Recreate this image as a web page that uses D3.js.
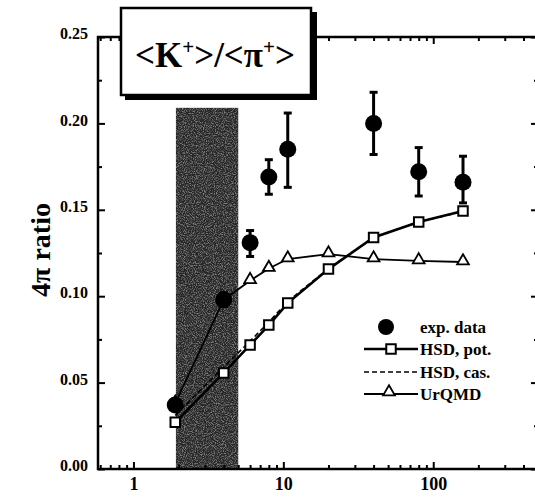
<!DOCTYPE html>
<html><head><meta charset="utf-8">
<script src="https://cdn.jsdelivr.net/npm/d3@7"></script>
<style>
body{margin:0;background:#fff}
svg text{font-family:"Liberation Serif","Times New Roman",serif;font-weight:bold;fill:#000}
</style>
</head><body>
<svg id="c" width="535" height="498"></svg>
<script>
// ---- data ----
const expE   = [1.9, 4, 6, 8, 10.7, 40, 80, 158];
const expVal = [0.037, 0.098, 0.131, 0.169, 0.185, 0.200, 0.172, 0.166];
const expLo  = [0.034, 0.094, 0.123, 0.159, 0.163, 0.182, 0.158, 0.154];
const expHi  = [0.040, 0.102, 0.138, 0.179, 0.206, 0.218, 0.186, 0.181];
const modelE = [1.9, 4, 6, 8, 10.7, 20, 40, 80, 158];
const hsdPot = [0.027, 0.0556, 0.0718, 0.0833, 0.096, 0.1157, 0.134, 0.143, 0.1493];
const hsdCas = [0.031, 0.059, 0.074, 0.085, 0.097, 0.116, 0.134, 0.143, 0.149];
const urqmd  = [0.038, 0.098, 0.109, 0.116, 0.1215, 0.1244, 0.1215, 0.1204, 0.1198];
const bandE  = [1.92, 5.0];
const bandTop = 0.209;
const xMajor = [1, 10, 100];
const xMinor = [0.6,0.7,0.8,0.9,2,3,4,5,6,7,8,9,20,30,40,50,60,70,80,90,200,300,400];
const yMajor = [0, 0.05, 0.10, 0.15, 0.20, 0.25];
const yMinor = [0.025, 0.075, 0.125, 0.175, 0.225];
const legendLabels = ["exp. data", "HSD, pot.", "HSD, cas.", "UrQMD"];
const yTitle = "4\u03c0 ratio";

// ---- layout ----
const L = 98, R = 538, T = 37, B = 469;
const svg = d3.select("#c");
const x = d3.scaleLog().domain([0.58, 500]).range([L, R]);
const y = d3.scaleLinear().domain([0, 0.25]).range([B, T]);

const defs = svg.append("defs");
const f = defs.append("filter").attr("id", "speck").attr("x", 0).attr("y", 0).attr("width", 1).attr("height", 1);
f.append("feTurbulence").attr("type", "fractalNoise").attr("baseFrequency", 0.9).attr("numOctaves", 2).attr("seed", 7).attr("result", "n");
f.append("feColorMatrix").attr("in", "n").attr("type", "matrix")
  .attr("values", "0 0 0 0 1  0 0 0 0 1  0 0 0 0 1  3.2 0 0 0 -1.35").attr("result", "w");
f.append("feComposite").attr("in", "w").attr("in2", "SourceGraphic").attr("operator", "in");

// shaded band
const bx = x(bandE[0]), bw = x(bandE[1]) - x(bandE[0]), by = y(bandTop), bh = y(0) - y(bandTop);
svg.append("rect").attr("x", bx).attr("width", bw).attr("y", by).attr("height", bh).attr("fill", "#262626");
svg.append("rect").attr("x", bx).attr("width", bw).attr("y", by).attr("height", bh).attr("fill", "#fff")
  .attr("filter", "url(#speck)").attr("opacity", 0.4);

// axes
const tk = 7, tm = 4;
const gx = svg.append("g").attr("transform", `translate(0,${B})`);
gx.call(d3.axisBottom(x).tickValues(xMajor).tickSize(-tk).tickPadding(8).tickFormat(d3.format("d")));
gx.append("g").call(d3.axisBottom(x).tickValues(xMinor).tickSize(-tm).tickFormat(""));
const gxt = svg.append("g").attr("transform", `translate(0,${T})`);
gxt.call(d3.axisTop(x).tickValues(xMajor).tickSize(-tk).tickFormat(""));
gxt.append("g").call(d3.axisTop(x).tickValues(xMinor).tickSize(-tm).tickFormat(""));
const gy = svg.append("g").attr("transform", `translate(${L},0)`);
gy.call(d3.axisLeft(y).tickValues(yMajor).tickSize(-tk).tickPadding(10).tickFormat(d3.format(".2f")));
gy.append("g").call(d3.axisLeft(y).tickValues(yMinor).tickSize(-tm).tickFormat(""));
const gyr = svg.append("g").attr("transform", `translate(${R},0)`);
gyr.call(d3.axisRight(y).tickValues(yMajor).tickSize(-tk).tickFormat(""));
gyr.append("g").call(d3.axisRight(y).tickValues(yMinor).tickSize(-tm).tickFormat(""));
svg.selectAll(".domain").remove();
svg.selectAll(".tick line").attr("stroke", "#000").attr("stroke-width", 2);
gx.selectAll(".tick text").attr("font-size", 18);
gy.selectAll(".tick text").attr("font-size", 16).attr("dy", "0.1em");

// frame
svg.append("rect").attr("x", L).attr("y", T).attr("width", R - L).attr("height", B - T)
  .attr("fill", "none").attr("stroke", "#000").attr("stroke-width", 2.5);

// y title
svg.append("text").attr("transform", "translate(50,250) rotate(-90)")
  .attr("text-anchor", "middle").attr("font-size", 28).text(yTitle);

// lines
const line = d3.line().x(d => x(d[0])).y(d => y(d[1]));
const pot = modelE.map((e, i) => [e, hsdPot[i]]);
const cas = modelE.map((e, i) => [e, hsdCas[i]]);
const urq = modelE.map((e, i) => [e, urqmd[i]]);
svg.append("path").attr("d", line(cas)).attr("fill", "none").attr("stroke", "#000")
  .attr("stroke-width", 1.6).attr("stroke-dasharray", "5,3");
svg.append("path").attr("d", line(pot)).attr("fill", "none").attr("stroke", "#000").attr("stroke-width", 2.6);
svg.append("path").attr("d", line(urq)).attr("fill", "none").attr("stroke", "#000").attr("stroke-width", 1.8);

// markers
const sq = d3.symbol().type(d3.symbolSquare).size(90);
const tri = d3.symbol().type(d3.symbolTriangle).size(60);
svg.selectAll(".sq").data(pot).join("path").attr("class", "sq")
  .attr("transform", d => `translate(${x(d[0])},${y(d[1])})`).attr("d", sq)
  .attr("fill", "#fff").attr("stroke", "#000").attr("stroke-width", 2);
svg.selectAll(".tri").data(urq).join("path").attr("class", "tri")
  .attr("transform", d => `translate(${x(d[0])},${y(d[1]) - 1})`).attr("d", tri)
  .attr("fill", "#fff").attr("stroke", "#000").attr("stroke-width", 1.8);

// exp data with error bars
const ex = expE.map((e, i) => ({e, v: expVal[i], lo: expLo[i], hi: expHi[i]}));
const eg = svg.selectAll(".exp").data(ex).join("g").attr("class", "exp");
eg.append("line").attr("x1", d => x(d.e)).attr("x2", d => x(d.e))
  .attr("y1", d => y(d.lo)).attr("y2", d => y(d.hi)).attr("stroke", "#000").attr("stroke-width", 3);
eg.each(function(d) {
  const g = d3.select(this);
  [d.lo, d.hi].forEach(v => g.append("line").attr("x1", x(d.e) - 4).attr("x2", x(d.e) + 4)
    .attr("y1", y(v)).attr("y2", y(v)).attr("stroke", "#000").attr("stroke-width", 3));
});
eg.append("circle").attr("cx", d => x(d.e)).attr("cy", d => y(d.v)).attr("r", 8.5).attr("fill", "#000");

// title box
svg.append("rect").attr("x", 125).attr("y", 12).attr("width", 192).attr("height", 88).attr("fill", "#000");
svg.append("rect").attr("x", 121).attr("y", 8).attr("width", 190).attr("height", 87)
  .attr("fill", "#fff").attr("stroke", "#000").attr("stroke-width", 2.5);
const tt = svg.append("text").attr("x", 215).attr("y", 67).attr("text-anchor", "middle").attr("font-size", 35);
tt.append("tspan").text("<K");
tt.append("tspan").attr("dy", -13).attr("font-size", 21).text("+");
tt.append("tspan").attr("dy", 13).text(">/<\u03c0");
tt.append("tspan").attr("dy", -13).attr("font-size", 21).text("+");
tt.append("tspan").attr("dy", 13).text(">");

// legend
const lx0 = 364, lx1 = 418, ltx = 420, ly = [327, 349, 372, 394];
svg.append("circle").attr("cx", 386).attr("cy", ly[0]).attr("r", 8).attr("fill", "#000");
svg.append("line").attr("x1", lx0).attr("x2", lx1).attr("y1", ly[1]).attr("y2", ly[1]).attr("stroke", "#000").attr("stroke-width", 2.6);
svg.append("path").attr("transform", `translate(391,${ly[1]})`).attr("d", sq).attr("fill", "#fff").attr("stroke", "#000").attr("stroke-width", 2);
svg.append("line").attr("x1", lx0).attr("x2", lx1).attr("y1", ly[2]).attr("y2", ly[2]).attr("stroke", "#000").attr("stroke-width", 1.6).attr("stroke-dasharray", "5,3");
svg.append("line").attr("x1", lx0).attr("x2", lx1).attr("y1", ly[3]).attr("y2", ly[3]).attr("stroke", "#000").attr("stroke-width", 1.8);
svg.append("path").attr("transform", `translate(389,${ly[3] - 2})`).attr("d", tri).attr("fill", "#fff").attr("stroke", "#000").attr("stroke-width", 1.8);
svg.selectAll(".lt").data(legendLabels).join("text").attr("class", "lt")
  .attr("x", ltx).attr("y", (d, i) => ly[i]).attr("dy", "0.35em").attr("font-size", 17).text(d => d);
</script>
</body></html>
